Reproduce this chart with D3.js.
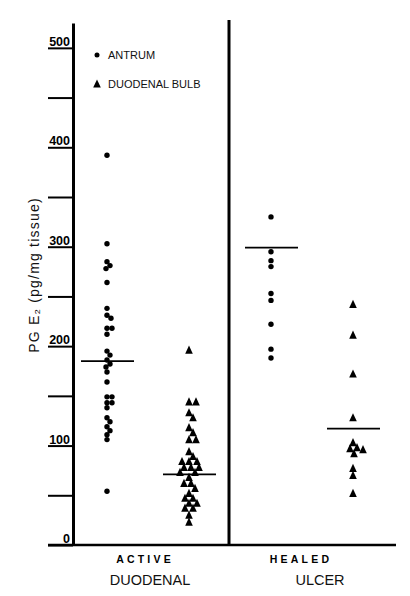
<!DOCTYPE html>
<html>
<head>
<meta charset="utf-8">
<script src="https://cdn.jsdelivr.net/npm/d3@7/dist/d3.min.js"></script>
<style>
  html, body { margin: 0; padding: 0; background: #fff; }
  svg { display: block; font-family: "Liberation Sans", Arial, sans-serif; }
</style>
</head>
<body>
<svg id="chart" width="410" height="596"></svg>
<script>
// ---- Data (PG E2, pg/mg tissue) ----
const groups = ["Active antrum", "Active bulb", "Healed antrum", "Healed bulb"];
const groupTypes = ["circle", "triangle", "circle", "triangle"];
const activeAntrum = [392, 303, 285, 281, 278, 264, 238, 231, 228, 218, 218, 212, 195, 191, 186, 182, 179, 174, 164, 149, 149, 143, 143, 138, 128, 124, 119, 115, 111, 106, 54];
const activeBulb = [196, 144, 144, 133, 128, 118, 113, 106, 106, 94, 89, 84, 84, 84, 78, 78, 78, 73, 73, 68, 62, 62, 57, 52, 47, 47, 42, 42, 37, 37, 30, 23];
const healedAntrum = [330, 295, 286, 280, 253, 246, 222, 197, 188];
const healedBulb = [242, 211, 172, 128, 103, 98, 97, 96, 92, 77, 70, 52];
const groupValues = [activeAntrum, activeBulb, healedAntrum, healedBulb];
const groupLines = [185, 71, 299, 117];
const yTicks = [0, 50, 100, 150, 200, 250, 300, 350, 400, 450, 500];
const legendLabels = ["ANTRUM", "DUODENAL BULB"];
const stateLabels = ["ACTIVE", "HEALED"];
const diseaseLabels = ["DUODENAL", "ULCER"];
const yLabel = "PG E\u2082 (pg/mg tissue)";

// ---- Scales ----
const svg = d3.select("#chart");
const y = d3.scaleLinear().domain([0, 525]).range([545, 23]);
const x = d3.scalePoint().domain(groups).range([107, 353]);

// ---- Axes / frame ----
const yAxis = d3.axisLeft(y)
  .tickValues(yTicks)
  .tickSize(25)
  .tickSizeOuter(0)
  .tickFormat(d => d % 100 === 0 ? d : "");

const gy = svg.append("g").attr("transform", "translate(73,0)").call(yAxis);
gy.select(".domain").attr("stroke", "#000").attr("stroke-width", 3);
gy.selectAll(".tick line").attr("stroke", "#000").attr("stroke-width", 2);
gy.selectAll(".tick text")
  .attr("x", -3)
  .attr("dy", "-0.2em")
  .attr("fill", "#000")
  .style("font-family", "'Liberation Sans', Arial, sans-serif")
  .style("font-size", "12.5px")
  .style("font-weight", "bold")
  .attr("text-anchor", "end");

// bottom baseline
svg.append("line")
  .attr("x1", 48).attr("x2", 396)
  .attr("y1", y(0)).attr("y2", y(0))
  .attr("stroke", "#000").attr("stroke-width", 2.5);

// divider between active and healed
const divX = (x(groups[1]) + x(groups[2])) / 2 - 1;
svg.append("line")
  .attr("x1", divX).attr("x2", divX)
  .attr("y1", 20).attr("y2", y(0))
  .attr("stroke", "#000").attr("stroke-width", 3);

// y label
svg.append("text")
  .attr("transform", "translate(39,275) rotate(-90)")
  .attr("text-anchor", "middle")
  .style("font-size", "14px")
  .style("letter-spacing", "1.2px")
  .attr("fill", "#111")
  .text(yLabel);

// ---- markers ----
const triPath = "M0,-4.6L3.8,3.6L-3.8,3.6Z";
const R = { circle: 2.7, triangle: 3.4 };

function dodge(values, cx, r) {
  const placed = [];
  const sorted = values.map((v, i) => ({ v, i })).sort((a, b) => b.v - a.v);
  const out = new Array(values.length);
  sorted.forEach(({ v, i }) => {
    const py = y(v);
    let off = 0;
    for (let k = 0; k < 60; k++) {
      const cand = k === 0 ? 0 : (k % 2 ? 1 : -1) * Math.ceil(k / 2);
      const ok = placed.every(p => {
        const dx = p.x - (cx + cand), dy = p.y - py;
        return dx * dx + dy * dy >= (2 * r) * (2 * r) * 0.8;
      });
      if (ok) { off = cand; break; }
    }
    const pt = { x: cx + off, y: py, v };
    placed.push(pt);
    out[i] = pt;
  });
  return out;
}

groups.forEach((g, gi) => {
  const type = groupTypes[gi];
  const pts = dodge(groupValues[gi], x(g), R[type]);
  const layer = svg.append("g");
  if (type === "circle") {
    layer.selectAll("circle").data(pts).join("circle")
      .attr("cx", d => d.x).attr("cy", d => d.y)
      .attr("r", R.circle).attr("fill", "#000");
  } else {
    layer.selectAll("path").data(pts).join("path")
      .attr("d", triPath)
      .attr("transform", d => `translate(${d.x},${d.y})`)
      .attr("fill", "#000");
  }
  // group line
  svg.append("line")
    .attr("x1", x(g) - 26).attr("x2", x(g) + 27)
    .attr("y1", y(groupLines[gi])).attr("y2", y(groupLines[gi]))
    .attr("stroke", "#000").attr("stroke-width", 1.8);
});

// ---- legend ----
const legend = svg.append("g");
legend.append("circle").attr("cx", 97).attr("cy", 55).attr("r", 2.5).attr("fill", "#000");
legend.append("path").attr("d", triPath).attr("transform", "translate(97,84)").attr("fill", "#000");
legend.selectAll("text").data(legendLabels).join("text")
  .attr("x", 108)
  .attr("y", (d, i) => 59 + i * 29)
  .style("font-size", "11px")
  .attr("fill", "#111")
  .text(d => d);

// ---- category labels ----
const stateX = [145, 301];
const diseaseX = [150, 320];
svg.selectAll(".state").data(stateLabels).join("text")
  .attr("class", "state")
  .attr("x", (d, i) => stateX[i])
  .attr("y", 563)
  .attr("text-anchor", "middle")
  .style("font-size", "10.5px")
  .style("font-weight", "bold")
  .style("letter-spacing", "3.2px")
  .attr("fill", "#000")
  .text(d => d);
svg.selectAll(".disease").data(diseaseLabels).join("text")
  .attr("class", "disease")
  .attr("x", (d, i) => diseaseX[i])
  .attr("y", 585)
  .attr("text-anchor", "middle")
  .style("font-size", "14.5px")
  .attr("fill", "#111")
  .text(d => d);
</script>
</body>
</html>
